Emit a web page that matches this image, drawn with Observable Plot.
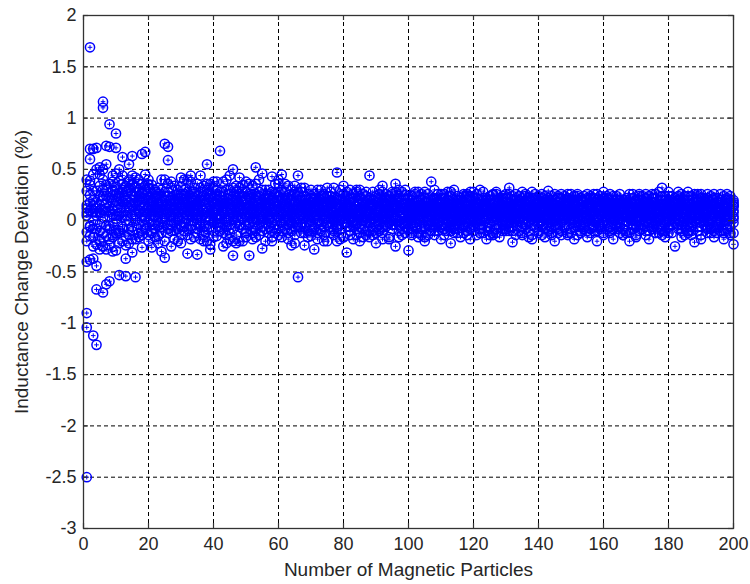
<!DOCTYPE html>
<html>
<head>
<meta charset="utf-8">
<script src="https://cdn.jsdelivr.net/npm/d3@7"></script>
<script src="https://cdn.jsdelivr.net/npm/@observablehq/plot@0.6"></script>
<style>
  html, body { margin: 0; padding: 0; background: #fff; }
  #chart { width: 750px; height: 584px; }
</style>
</head>
<body>
<div id="chart"></div>
<script>
// Inductance change deviation, in hundredths of a percent, for N = 1..200 particles.
// One array per repeated trial (index 0 -> N = 1).
const trial1 = [-250,169,-112,-121,-20,116,-62,94,-2,85,-53,62,-54,55,63,-55,24,-26,67,20,
18,30,-5,40,75,72,12,25,-8,33,20,5,38,15,-12,28,10,55,22,0,
30,68,14,-6,26,50,18,8,35,-10,22,12,52,28,4,16,30,43,-4,20,
45,10,25,-2,18,44,6,20,12,30,-6,15,24,2,16,28,8,47,14,22,
5,18,26,-3,12,20,8,44,16,24,0,14,22,10,-4,36,18,6,25,12,
20,8,15,-2,22,10,38,4,16,26,12,0,18,8,24,14,-5,20,10,28,
6,16,22,2,12,25,8,18,-4,14,32,10,20,4,16,26,8,12,22,0,
18,10,29,6,14,24,-2,16,8,20,12,26,4,18,10,22,0,14,24,8,
22,12,4,18,26,8,14,20,-3,16,10,24,6,18,12,22,2,32,14,20,
8,16,24,4,12,20,10,26,6,18,14,22,2,16,10,20,24,12,18,8];
const trial2 = [29,70,70,-67,34,110,73,-59,28,71,39,-20,-37,12,-31,42,8,65,10,-20,
-26,5,-15,10,-36,-8,20,-18,2,-22,12,-32,-5,8,-33,0,-20,14,-23,-10,
-15,5,-25,10,-18,-34,-2,-20,8,-12,-34,0,-16,6,-27,-8,12,-20,-4,-14,
-10,4,-18,-24,2,-55,-12,-24,6,-15,-28,0,-10,-20,8,-6,-14,2,-18,-16,
-31,-6,4,-14,-20,0,-10,-16,6,-22,-4,-12,2,-18,-8,-25,0,-14,-6,-29,
-12,2,-16,-6,-20,4,-10,-14,0,-18,-8,6,-22,-12,-2,-16,4,-10,-18,0,
-14,-4,2,-18,-8,-12,4,-16,0,-10,-6,-21,-14,2,-12,-4,-16,-18,0,-10,
-6,-16,2,-12,-20,-4,-10,4,-14,-8,-18,0,-12,-6,-16,2,-10,-20,-4,-14,
0,-12,-18,-6,2,-14,-10,-20,-4,-16,0,-8,-14,-18,-2,-12,4,-10,-16,-6,
-12,-25,-4,-16,0,-10,-14,-21,-6,-18,2,-12,-8,-16,-4,-10,-18,0,-14,-23];
const trial3 = [-90,60,-37,71,24,-70,55,36,6,-29,8,14,34,-22,20,18,-12,12,30,35,
35,10,24,-12,40,59,4,18,30,-4,26,12,0,22,36,8,-14,20,14,32,
6,24,38,2,16,-8,28,42,10,20,-2,34,14,8,46,22,-6,12,26,36,
16,28,2,12,34,-4,20,8,26,14,-8,30,10,22,-2,18,32,4,12,-16,
24,8,-6,20,30,12,2,16,-10,22,14,28,4,10,26,-4,18,8,30,14,
4,18,28,10,-6,22,14,2,26,8,-8,20,12,30,4,16,24,-2,14,8,
22,30,8,14,-6,20,26,4,12,18,-2,24,8,16,28,2,12,22,-6,18,
10,24,4,18,-4,14,22,8,26,2,16,10,20,-6,12,24,6,18,12,28,
14,4,24,10,-2,20,16,6,26,12,20,-4,14,24,8,16,28,6,20,10,
18,6,12,26,20,2,16,8,24,12,-4,20,14,26,8,18,4,22,12,16];
const trial4 = [-104,39,0,-44,15,24,17,-5,44,19,22,30,10,30,6,2,40,26,-8,8,
-10,22,8,30,-20,15,-25,6,18,-14,2,28,-18,12,24,-6,34,4,-28,16,
20,-10,8,30,-4,14,-22,24,2,-16,12,26,-8,18,0,-20,6,22,-12,10,
-4,14,22,0,-14,8,18,-6,10,24,2,-12,16,6,-20,12,0,20,-8,26,
12,-14,18,4,22,-8,10,0,16,-12,26,4,-6,14,20,2,-16,12,0,18,
-8,12,2,20,8,-14,16,0,10,-4,22,6,-10,14,2,18,-12,8,24,-4,
12,-8,16,6,20,0,-12,10,22,4,-10,14,2,20,-6,12,4,-14,8,24,
0,14,-10,20,6,12,-14,2,18,8,-6,14,22,4,-10,12,18,0,-8,16,
6,20,-8,12,2,16,-12,10,22,-4,8,14,0,-10,18,4,-6,12,2,-12,
20,2,-8,14,6,-12,16,4,-10,22,8,0,18,-6,12,4,-12,10,20,2];
const trial5 = [-11,-38,-16,29,-3,10,-5,72,-14,2,-12,-6,22,0,35,28,15,5,22,14,
8,-16,26,2,14,36,-4,20,10,42,-10,18,6,28,-2,44,16,-8,24,12,
38,2,16,-14,30,8,22,-4,12,28,6,-12,20,40,10,-2,24,4,18,-8,
22,-8,12,30,4,16,28,-12,8,0,20,12,-4,26,10,2,-10,16,24,6,
-2,20,10,28,-6,14,24,6,-14,12,4,20,14,-2,8,16,24,-8,10,2,
14,-6,8,26,0,12,-4,22,6,16,-14,10,2,-6,20,8,12,26,-8,16,
-2,10,20,-10,24,8,14,-6,18,26,4,-2,16,10,-14,20,14,6,26,-4,
22,4,12,-8,26,2,16,20,-12,10,24,4,-4,14,22,-8,10,4,20,-2,
10,-6,16,24,-12,6,22,14,0,20,-10,10,22,2,-8,26,10,-4,8,24,
-4,12,20,-10,24,10,-2,14,20,0,16,-8,24,6,18,-2,12,20,-6,10];
const trial6 = [5,10,29,-23,8,-12,30,14,18,33,5,18,-15,18,14,-18,30,-14,45,28,
26,4,32,18,-2,24,38,10,-20,22,30,14,44,0,18,32,-6,26,8,38,
12,28,-4,22,44,20,4,32,-20,16,36,2,26,12,-10,30,16,2,36,24,
30,2,-12,20,26,12,-2,32,16,-10,22,6,30,-14,18,24,4,-6,30,12,
16,30,-2,8,24,4,28,12,20,-6,18,34,8,24,0,20,10,28,-12,6,
24,10,-12,14,28,0,20,12,-10,22,2,28,-6,18,10,0,26,14,2,22,
16,2,-12,22,10,26,-4,12,24,0,18,6,26,-10,22,8,0,16,12,20,
26,-8,18,10,0,22,6,12,4,26,-2,18,10,24,0,16,22,-10,14,8,
18,26,2,-4,16,12,0,26,10,4,24,18,-10,12,22,-2,16,24,-10,14,
10,22,2,18,-6,16,24,0,12,4,22,10,-6,20,0,12,16,-8,4,14];
const trial7 = [-40,-6,45,12,52,40,-28,22,-30,-9,27,4,5,38,-10,10,-4,36,2,-2,
-4,14,-22,8,20,-12,16,34,4,12,-6,40,22,-16,6,14,24,-20,36,6,
24,-6,20,40,6,-20,34,12,28,4,14,-18,36,24,18,8,-12,28,6,14,
8,36,14,-10,28,-6,12,24,2,18,8,-18,20,14,24,-12,22,10,4,18,
8,-10,22,14,4,26,-14,22,2,6,-10,24,16,-16,12,28,-4,14,20,-8,
0,26,6,-14,12,18,4,-10,20,12,16,-4,24,0,-12,22,6,-14,28,10,
4,20,12,16,-14,4,20,22,8,-8,12,20,4,24,10,-8,22,2,14,10,
12,20,-4,24,16,8,12,-6,20,14,4,-14,22,8,16,4,26,10,-6,22,
-8,8,12,20,8,-8,20,2,16,8,14,2,26,16,4,12,-12,20,24,0,
14,8,16,22,2,24,6,18,-10,26,4,16,10,22,-12,26,8,14,24,-12];
const trial8 = [12,18,-8,5,-10,3,9,-18,11,15,50,44,28,-8,25,32,20,18,16,40,
14,-4,18,-30,10,28,6,-10,24,16,40,-8,18,26,10,-18,20,36,2,-16,
-2,18,10,-22,20,32,-14,16,2,38,24,-6,8,-14,30,20,2,-16,28,40,
-16,20,34,8,-22,24,32,14,-16,6,26,20,-8,10,32,6,18,-20,8,34,
28,12,-18,30,16,-16,18,-2,28,12,30,-18,26,4,28,10,30,-2,16,24,
-14,28,20,6,-16,26,10,30,-2,4,26,14,28,20,-8,4,18,24,-2,-10,
26,-12,28,10,14,-14,28,0,-10,22,26,-10,0,14,4,24,-10,28,4,-12,
-14,18,22,-14,8,-12,26,24,14,-12,20,24,-10,-2,26,-12,-4,26,6,-12,
24,-10,20,6,20,-14,6,-12,22,-14,26,6,16,-2,26,-12,20,-14,6,28,
24,-2,28,8,-14,28,-10,6,26,-14,10,26,-12,4,22,8,-4,26,-12,20];
const trial9 = [15,-5,20,8,-18,30,12,-8,25,5,-22,18,0,40,-6,14,28,-10,8,22,
6,12,-2,16,4,10,0,14,8,-6,18,2,12,6,16,-4,10,4,14,8,
2,14,8,-6,12,4,16,0,10,6,-4,14,8,2,12,18,6,-2,10,4,
8,0,12,4,-6,10,14,2,8,-4,12,6,16,0,10,4,-8,12,6,2,
10,4,-4,14,6,0,12,8,-6,4,10,2,14,-2,6,12,0,8,4,-8,
6,12,0,8,14,-4,4,10,2,-6,8,14,0,6,12,-2,10,4,0,12,
2,8,-4,12,6,0,10,4,-8,14,6,2,-4,10,4,12,-2,8,6,0,
8,2,12,-6,4,10,0,14,6,-2,8,4,12,-4,6,0,10,2,-6,12,
4,10,-2,6,12,0,8,2,-8,10,4,14,-2,6,8,0,12,4,-4,8,
2,10,6,-4,12,0,8,4,14,-2,6,10,0,8,-6,12,4,2,10,-2];
const trial10 = [-20,35,8,-8,45,20,-15,4,30,-12,16,28,-24,10,36,0,-16,22,4,12,
20,-8,12,24,2,16,-10,8,22,12,-2,20,28,10,-8,18,6,30,0,22,
10,20,-12,14,4,24,10,-6,18,12,26,6,-10,16,2,12,22,8,0,18,
14,22,6,-8,16,2,10,-2,20,8,14,0,6,18,-4,12,8,22,0,10,
-6,14,8,0,16,10,4,-10,12,18,2,8,-4,20,14,0,10,16,-2,8,
10,-2,18,4,8,14,0,20,6,12,-4,2,16,10,0,8,-6,14,6,16,
12,0,14,-6,8,16,2,10,20,-2,8,14,6,0,18,-4,6,12,16,4,
-4,12,6,16,2,-8,14,6,10,0,18,8,-4,12,2,16,6,10,18,0,
12,2,8,14,-6,18,4,10,12,0,16,6,8,-4,14,10,0,16,8,12,
14,4,0,10,16,-4,12,6,2,14,10,-6,16,4,12,0,14,6,10,4];
const trial11 = [40,-15,15,50,8,-25,35,10,-16,46,24,-8,16,32,-18,6,36,28,-4,32,
-12,24,4,14,28,-4,22,12,0,26,8,-14,14,32,2,20,-10,12,26,-2,
16,6,28,0,-12,18,8,26,-8,22,4,16,24,-4,14,6,18,-10,14,4,
-2,16,8,24,10,18,4,12,-10,22,4,16,8,-6,14,20,2,-4,16,8,
12,2,16,-8,10,20,-2,6,14,0,20,-6,10,8,18,4,-10,20,12,4,
-2,14,6,16,-8,10,20,-4,12,18,6,-10,8,2,16,12,-4,6,20,2,
8,16,4,20,-2,10,6,14,0,8,16,-6,12,4,8,16,10,-4,20,6,
14,6,-2,10,20,4,8,-4,16,10,2,20,6,-8,14,8,2,20,10,4,
-2,16,10,4,20,-8,14,8,2,16,-4,12,18,8,0,14,10,-8,16,4,
6,16,10,-8,4,18,2,12,8,-6,18,4,12,14,2,6,-10,16,8,14];
const trial12 = [8,25,-25,18,-28,50,24,-24,38,26,-10,36,20,-14,44,24,10,0,34,-14,
10,28,16,-6,24,8,32,-2,16,6,24,10,-8,20,14,4,28,8,-6,18,
26,-2,12,18,8,2,20,10,24,-4,16,8,2,22,-6,12,0,20,8,28,
6,12,-4,18,10,28,-6,16,4,12,18,-2,10,24,4,16,12,-8,20,-2,
16,22,0,10,-12,18,6,20,2,10,-8,16,20,6,-4,12,22,2,16,0,
16,4,10,-8,18,2,12,14,-4,20,10,16,4,-8,14,20,2,10,12,-6,
18,6,10,2,16,12,-8,18,4,12,0,16,10,18,-2,8,18,4,10,16,
4,16,10,2,12,18,0,10,22,6,14,-6,16,2,20,10,-6,12,6,18,
16,6,14,-8,10,4,18,12,6,-6,12,20,4,10,-6,18,6,14,10,-4,
10,18,6,16,8,14,-6,10,18,6,0,14,6,-10,16,10,8,-4,2,18];

const xTicks = [0, 20, 40, 60, 80, 100, 120, 140, 160, 180, 200];
const yTicks = [-3, -2.5, -2, -1.5, -1, -0.5, 0, 0.5, 1, 1.5, 2];
const xLabel = "Number of Magnetic Particles";
const yLabel = "Inductance Change Deviation (%)";

const trials = [trial1, trial2, trial3, trial4, trial5, trial6, trial7, trial8, trial9, trial10, trial11, trial12];
const points = [];
trials.forEach((arr, t) => arr.forEach((v, i) => points.push({n: i + 1, v: v / 100, t})));

const W = 750, H = 584, mL = 83, mT = 15, mR = 17, mB = 56;
const innerW = W - mL - mR, innerH = H - mT - mB;
const blue = "#0000ff", ink = "#262626";

const chart = Plot.plot({
  width: W, height: H,
  marginLeft: mL, marginTop: mT, marginRight: mR, marginBottom: mB,
  style: {fontFamily: "'Liberation Sans', Arial, sans-serif", fontSize: "18px", color: ink, background: "#fff"},
  x: {domain: [0, 200]},
  y: {domain: [-3, 2]},
  marks: [
    Plot.gridX(xTicks, {stroke: "#000", strokeOpacity: 1, strokeWidth: 1, strokeDasharray: "4,3"}),
    Plot.gridY(yTicks, {stroke: "#000", strokeOpacity: 1, strokeWidth: 1, strokeDasharray: "4,3"}),
    Plot.dot(points, {x: "n", y: "v", r: 4.6, stroke: blue, strokeWidth: 1.5, fill: "none"}),
    Plot.dot(points, {x: "n", y: "v", r: 1.6, symbol: "plus", stroke: blue, strokeWidth: 1}),
    Plot.frame({stroke: "#333", strokeWidth: 1.3}),
    Plot.tickX(xTicks, {x: d => d, insetTop: innerH - 5, stroke: "#333", strokeWidth: 1.2}),
    Plot.tickX(xTicks, {x: d => d, insetBottom: innerH - 5, stroke: "#333", strokeWidth: 1.2}),
    Plot.tickY(yTicks, {y: d => d, insetRight: innerW - 5, stroke: "#333", strokeWidth: 1.2}),
    Plot.tickY(yTicks, {y: d => d, insetLeft: innerW - 5, stroke: "#333", strokeWidth: 1.2}),
    Plot.axisX(xTicks, {tickSize: 0, tickPadding: 9, fontSize: 18, label: null, tickFormat: d => String(d)}),
    Plot.axisY(yTicks, {tickSize: 0, tickPadding: 7, fontSize: 18, label: null, tickFormat: d => String(d)}),
    Plot.text([xLabel], {text: d => d, frameAnchor: "bottom", textAnchor: "middle", dy: 47, fontSize: 19, fill: ink}),
    Plot.text([yLabel], {text: d => d, frameAnchor: "left", textAnchor: "middle", dx: -62, rotate: -90, fontSize: 19, fill: ink})
  ]
});
document.getElementById("chart").appendChild(chart);
</script>
</body>
</html>
